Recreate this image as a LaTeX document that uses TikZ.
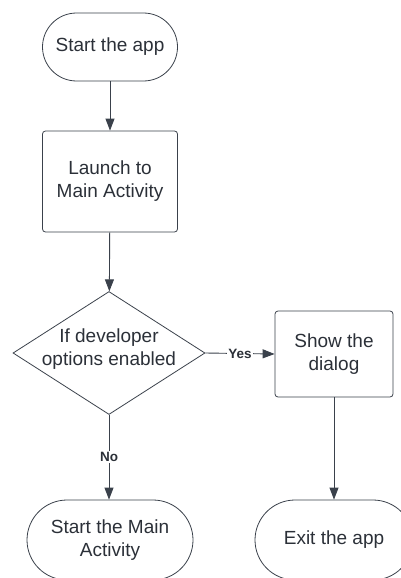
\documentclass[tikz,border=0pt]{standalone}
\usepackage{fontspec}
\setmainfont{Liberation Sans}
\usetikzlibrary{shapes.geometric,arrows.meta}
\definecolor{ln}{HTML}{3A414B}
\definecolor{tx}{HTML}{2B3038}
\begin{document}
\begin{tikzpicture}[x=1pt,y=1pt,
  every node/.style={text=tx,font=\fontsize{19}{23}\selectfont,align=center},
  pill/.style={draw=ln,line width=0.8pt,rounded corners=#1,inner sep=0pt},
  boxx/.style={draw=ln,line width=0.8pt,rounded corners=3pt,inner sep=0pt},
  arr/.style={draw=ln,line width=0.9pt,-{Triangle[length=12pt,width=9pt]}},
  lbl/.style={fill=white,inner sep=1.5pt,font=\fontsize{13.5}{15}\selectfont\bfseries}]
\useasboundingbox (0,0) rectangle (401,-578);
\node[pill=34pt,minimum width=135pt,minimum height=68pt] (start) at (110,-47) {Start the app};
\node[boxx,minimum width=135pt,minimum height=101pt] (launch) at (110,-181.5) {Launch to\\Main Activity};
\node[diamond,draw=ln,line width=0.8pt,minimum width=192pt,minimum height=123pt,inner sep=0pt] (dec) at (109,-353) {};
\node (dectext) at (109,-349) {If developer\\options enabled};
\node[boxx,minimum width=118pt,minimum height=86pt] (show) at (334,-354) {Show the\\dialog};
\node[pill=40pt,minimum width=166pt,minimum height=80pt] (mainact) at (110,-540) {Start the Main\\Activity};
\node[pill=40pt,minimum width=158pt,minimum height=80pt] (exit) at (334,-540) {Exit the app};
\draw[arr] (start) -- (launch);
\draw[arr] (launch) -- (dec);
\draw[arr] (dec.east) -- node[lbl]{Yes} (show.west);
\draw[arr] (dec.south) -- node[lbl,pos=0.5]{No} (mainact.north -| dec.south);
\draw[arr] (show) -- (exit);
\end{tikzpicture}
\end{document}
